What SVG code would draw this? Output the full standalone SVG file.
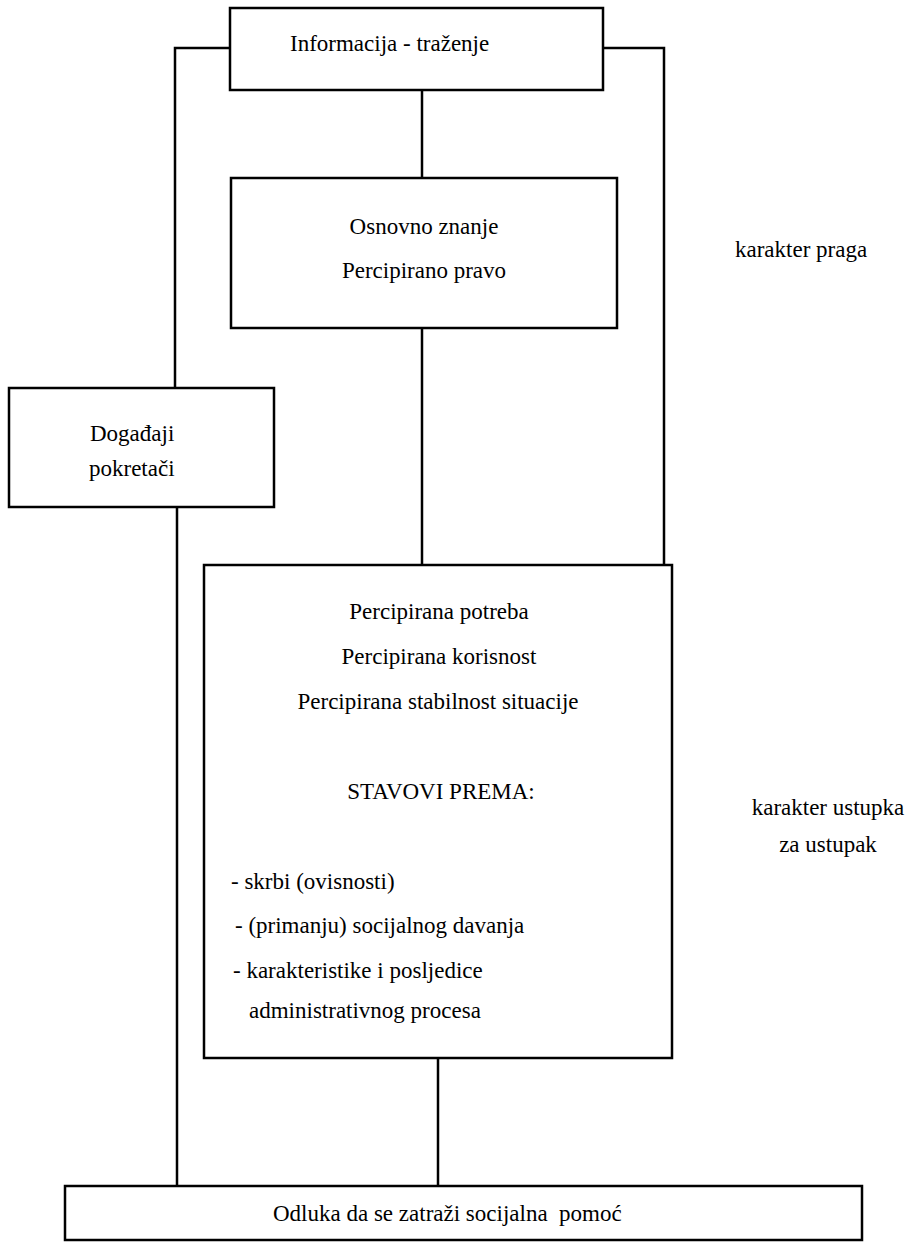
<svg xmlns="http://www.w3.org/2000/svg" width="909" height="1242" viewBox="0 0 909 1242">
<style>
.box{fill:#fff;stroke:#000;stroke-width:2.5}
.ln{fill:none;stroke:#000;stroke-width:2.5}
text{font-family:"Liberation Serif","Times New Roman",serif;font-size:23px;fill:#000}
.c{text-anchor:middle}
</style>
<rect width="909" height="1242" fill="#fff"/>
<g id="connectors">
<polyline class="ln" points="230,48 175,48 175,388"/>
<polyline class="ln" points="603,48 664,48 664,565"/>
<line class="ln" x1="422" y1="90" x2="422" y2="178"/>
<line class="ln" x1="422" y1="328" x2="422" y2="565"/>
<line class="ln" x1="177" y1="507" x2="177" y2="1186"/>
<line class="ln" x1="438" y1="1058" x2="438" y2="1186"/>
</g>
<g id="info">
<rect class="box" x="230" y="8" width="373" height="82"/>
<text x="290" y="51">Informacija - traženje</text>
</g>
<g id="znanje">
<rect class="box" x="231" y="178" width="386" height="150"/>
<text class="c" x="424" y="234">Osnovno znanje</text>
<text class="c" x="424" y="278">Percipirano pravo</text>
</g>
<g id="dogadjaji">
<rect class="box" x="9" y="388" width="265" height="119"/>
<text x="90" y="441">Događaji</text>
<text x="89" y="476">pokretači</text>
</g>
<g id="percepcije">
<rect class="box" x="204" y="565" width="468" height="493"/>
<text class="c" x="439" y="619">Percipirana potreba</text>
<text class="c" x="439" y="664">Percipirana korisnost</text>
<text class="c" x="438" y="709">Percipirana stabilnost situacije</text>
<text class="c" x="441" y="799">STAVOVI PREMA:</text>
<text x="231" y="889">- skrbi (ovisnosti)</text>
<text x="235" y="933">- (primanju) socijalnog davanja</text>
<text x="233" y="978">- karakteristike i posljedice</text>
<text x="249" y="1018">administrativnog procesa</text>
</g>
<g id="odluka">
<rect class="box" x="65" y="1186" width="797" height="54"/>
<text x="273" y="1221" xml:space="preserve">Odluka da se zatraži socijalna  pomoć</text>
</g>
<g id="labels">
<text x="735" y="257">karakter praga</text>
<text class="c" x="828" y="815">karakter ustupka</text>
<text class="c" x="828" y="852">za ustupak</text>
</g>
</svg>
